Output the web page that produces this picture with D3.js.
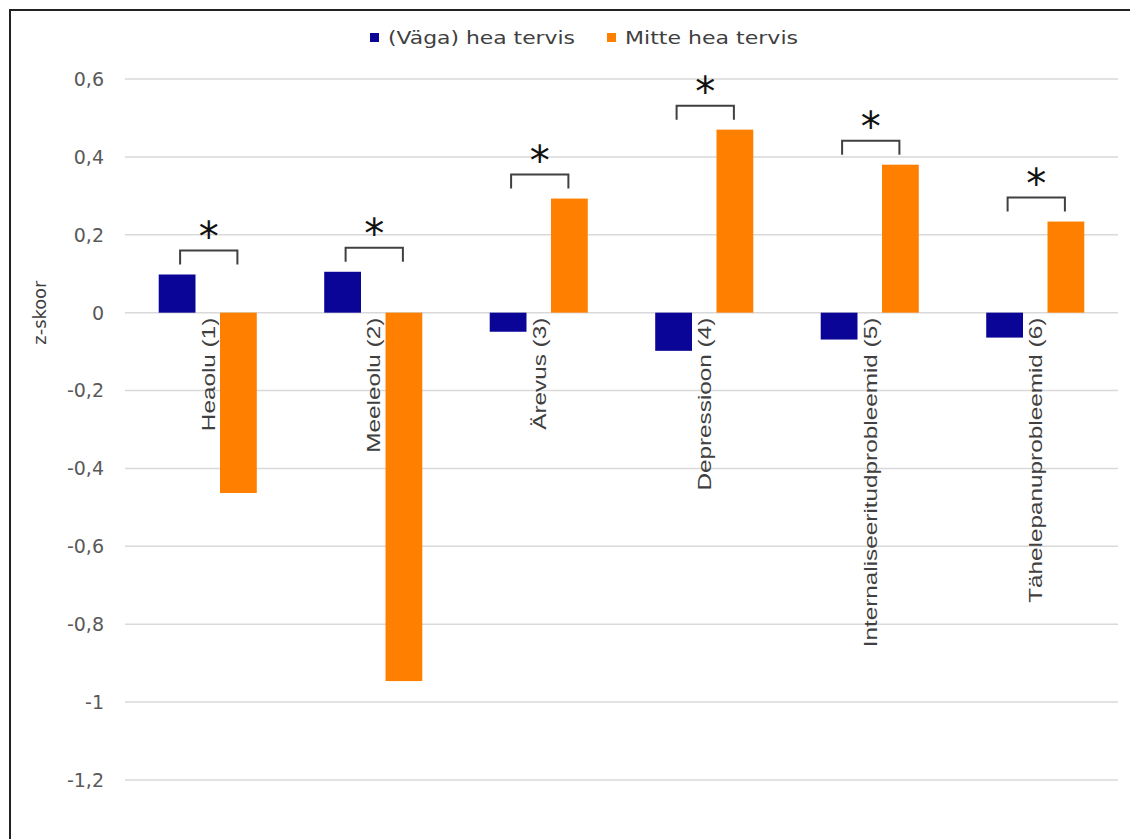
<!DOCTYPE html>
<html><head><meta charset="utf-8">
<script src="https://cdn.jsdelivr.net/npm/d3@7"></script>
<style>body{margin:0;background:#fff}svg{display:block}</style>
</head><body>
<svg id="c" width="1130" height="839"></svg>
<script>
const categories = ["Heaolu (1)", "Meeleolu (2)", "Ärevus (3)", "Depressioon (4)", "Internaliseeritudprobleemid (5)", "Tähelepanuprobleemid (6)"];
const seriesNames = ["(Väga) hea tervis", "Mitte hea tervis"];
const goodHealth = [0.098, 0.105, -0.049, -0.098, -0.069, -0.064];
const poorHealth = [-0.463, -0.946, 0.293, 0.470, 0.380, 0.234];
const significant = [true, true, true, true, true, true];
const yTicks = [0.6, 0.4, 0.2, 0, -0.2, -0.4, -0.6, -0.8, -1, -1.2];
const colors = ["#0a0597", "#ff8000"];

const svg = d3.select("#c");
const font = "'DejaVu Sans', sans-serif";
const fmt = d => String(Math.round(d * 10) / 10).replace(".", ",");

// frame
svg.append("path").attr("d", "M10,839 V10 H1130").attr("fill", "none").attr("stroke", "#222").attr("stroke-width", 2);

const y = d3.scaleLinear().domain([-1.2, 0.6]).range([780, 79]);
const x0 = d3.scaleBand().domain(categories).range([125, 1118]).paddingInner(0).paddingOuter(0);
const x1 = d3.scaleBand().domain(seriesNames).range([0, x0.bandwidth()]).paddingInner(0.4).paddingOuter(0.55);

// grid
svg.append("g").selectAll("line").data(yTicks).join("line")
  .attr("x1", 125).attr("x2", 1118)
  .attr("y1", d => y(d)).attr("y2", d => y(d))
  .attr("stroke", "#d9d9d9").attr("stroke-width", 1.5);

// y tick labels
svg.append("g").selectAll("text").data(yTicks).join("text")
  .attr("x", 104).attr("y", d => y(d)).attr("dy", "0.36em")
  .attr("text-anchor", "end").attr("font-family", font).attr("font-size", 19).attr("fill", "#595959")
  .text(fmt);

// y title
svg.append("text").attr("transform", `translate(46,${y(0)}) rotate(-90)`)
  .attr("text-anchor", "middle").attr("font-family", font).attr("font-size", 18).attr("fill", "#404040")
  .attr("textLength", 64).attr("lengthAdjust", "spacingAndGlyphs")
  .text("z-skoor");

// bars
const rows = categories.map((c, i) => ({c, vals: [goodHealth[i], poorHealth[i]]}));
const g = svg.append("g");
rows.forEach(r => {
  g.selectAll(null).data(r.vals.map((v, k) => ({v, k}))).join("rect")
    .attr("x", d => x0(r.c) + x1(seriesNames[d.k]))
    .attr("width", x1.bandwidth())
    .attr("y", d => y(Math.max(0, d.v)))
    .attr("height", d => Math.abs(y(d.v) - y(0)))
    .attr("fill", d => colors[d.k]);
});

// category labels
svg.append("g").selectAll("text").data(categories).join("text")
  .attr("transform", d => `translate(${x0(d) + x0.bandwidth() / 2 + 7},${y(0) + 5}) rotate(-90) scale(1.28,1)`)
  .attr("text-anchor", "end").attr("font-family", "'Liberation Sans', Arial, sans-serif").attr("font-size", 19).attr("fill", "#404040")
  .text(d => d);

// significance brackets
rows.forEach((r, i) => {
  if (!significant[i]) return;
  const top = y(Math.max(0, ...r.vals)) - 10;
  const xa = x0(r.c) + x1(seriesNames[0]) + x1.bandwidth() / 2 + 3;
  const xb = x0(r.c) + x1(seriesNames[1]) + x1.bandwidth() / 2 - 1;
  svg.append("path").attr("d", `M${xa},${top} V${top - 14} H${xb} V${top}`)
    .attr("fill", "none").attr("stroke", "#404040").attr("stroke-width", 2);
  svg.append("text").attr("x", (xa + xb) / 2).attr("y", top - 14 + 0)
    .attr("text-anchor", "middle").attr("font-family", font).attr("font-size", 40).attr("fill", "#111")
    .text("*");
});

// legend
const leg = svg.append("g");
const legItems = [{n: seriesNames[0], x: 370, w: 187}, {n: seriesNames[1], x: 607, w: 173}];
legItems.forEach((d, k) => {
  leg.append("rect").attr("x", d.x).attr("y", 33).attr("width", 9).attr("height", 9).attr("fill", colors[k]);
  leg.append("text").attr("x", d.x + 18).attr("y", 38).attr("dy", "0.36em")
    .attr("font-family", font).attr("font-size", 18).attr("fill", "#404040")
    .attr("textLength", d.w).attr("lengthAdjust", "spacingAndGlyphs").text(d.n);
});
</script>
</body></html>
